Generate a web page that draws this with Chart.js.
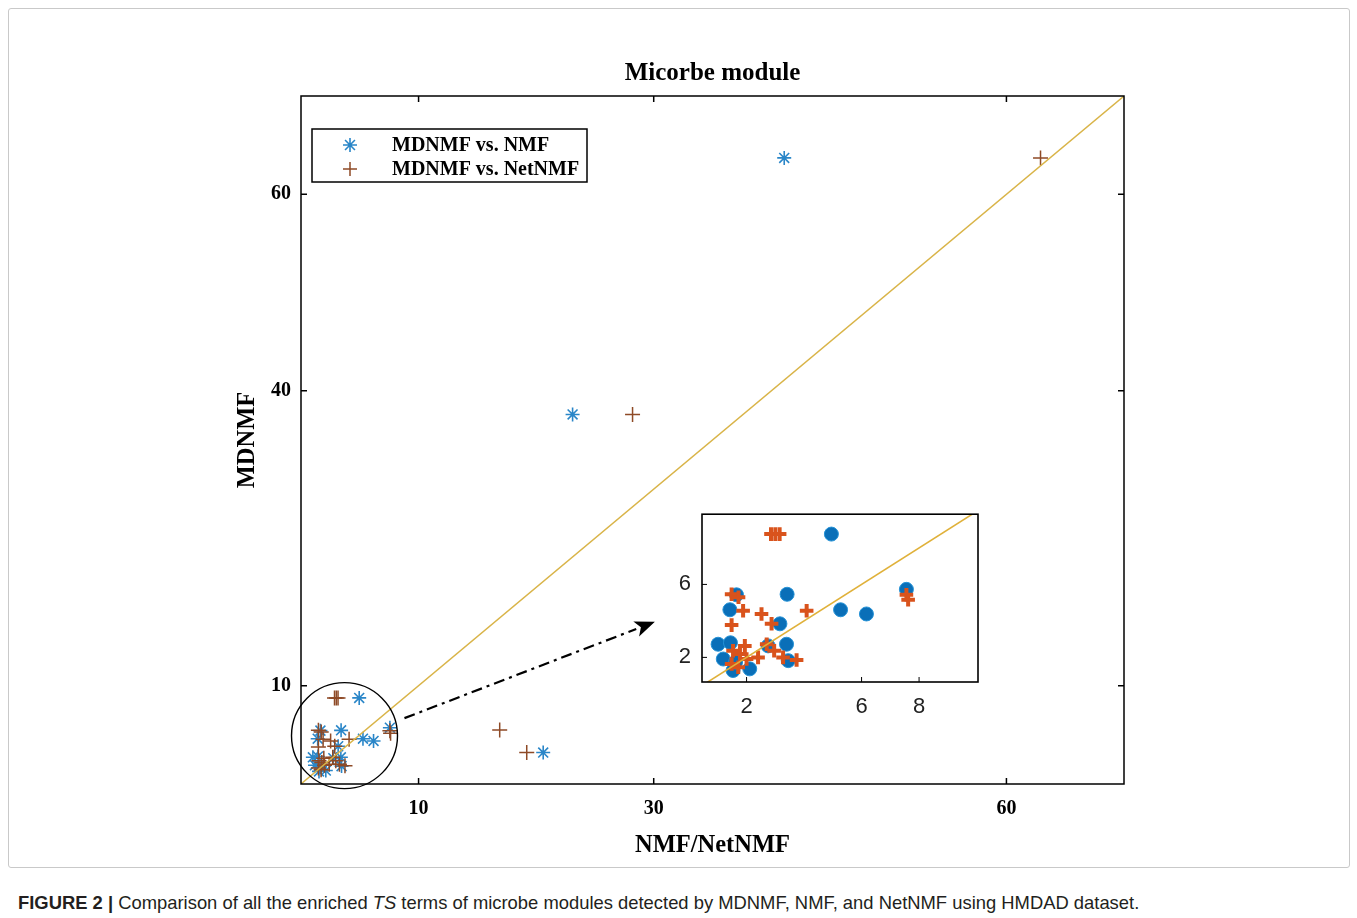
<!DOCTYPE html>
<html>
<head>
<meta charset="utf-8">
<script src="https://cdn.jsdelivr.net/npm/chart.js@4.4.0/dist/chart.umd.min.js"></script>
<style>
  body { margin: 0; background: #fff; }
  #wrap { position: relative; width: 1357px; height: 918px; }
  #frame { position: absolute; left: 8px; top: 8px; width: 1340px; height: 858px; border: 1px solid #c9c9c9; border-radius: 3px; }
  #main { position: absolute; left: 0; top: 0; }
  #inset { position: absolute; left: 640px; top: 490px; }
  #caption { position: absolute; left: 18px; top: 892px; font: 18.4px 'Liberation Sans', Arial, sans-serif; color: #231f20; white-space: nowrap; line-height: 22px; }
</style>
</head>
<body>
<div id="wrap">
  <div id="frame"></div>
  <canvas id="main" width="1357" height="870"></canvas>
  <canvas id="inset" width="360" height="240"></canvas>
  <div id="caption"><b>FIGURE 2 |</b> Comparison of all the enriched <i>TS</i> terms of microbe modules detected by MDNMF, NMF, and NetNMF using HMDAD dataset.</div>
</div>
<script>
// MDNMF vs. NMF
const nmfX = [41.1, 23.1, 20.6, 4.95, 3.41, 1.65, 7.56, 1.42, 5.27, 6.17, 3.16, 1.01, 1.44, 3.39, 1.19, 2.11, 1.53, 3.45, 2.75, 1.62];
const nmfY = [63.7, 37.6, 3.2, 8.76, 5.46, 5.43, 5.73, 4.61, 4.61, 4.38, 3.84, 2.72, 2.80, 2.72, 1.91, 1.37, 1.28, 1.82, 2.63, 1.75];
// MDNMF vs. NetNMF
const netX = [62.9, 28.2, 16.9, 19.2, 2.85, 3.0, 3.15, 1.48, 1.72, 7.56, 7.62, 1.88, 2.52, 4.09, 1.48, 2.87, 1.94, 2.70, 2.96, 3.27, 3.74, 2.40, 1.53, 1.77, 1.48, 1.71, 2.0];
const netY = [63.7, 37.6, 5.5, 3.2, 8.76, 8.76, 8.76, 5.46, 5.30, 5.43, 5.16, 4.56, 4.38, 4.56, 3.77, 3.84, 2.63, 2.72, 2.36, 2.0, 1.86, 2.0, 2.36, 2.18, 1.64, 1.46, 1.91];
// y = x reference line
const diagonal = [0, 70];

const mainXTicks = [10, 30, 60];
const mainYTicks = [10, 40, 60];
const insetXTicks = [2, 6, 8];
const insetYTicks = [2, 6];

const nmfPts = nmfX.map((x, i) => ({ x: x, y: nmfY[i] }));
const netPts = netX.map((x, i) => ({ x: x, y: netY[i] }));
const diagPts = diagonal.map(v => ({ x: v, y: v }));

const serif = "'Liberation Serif', 'Times New Roman', serif";
const sans = "'Liberation Sans', Arial, sans-serif";

Chart.defaults.animation = false;
Chart.defaults.plugins.tooltip.enabled = false;

function fixTicks(list) {
  return s => { s.ticks = list.map(v => ({ value: v })); };
}

// box, inward ticks, zoom circle, arrow and legend for the main plot
const mainExtras = {
  id: 'mainExtras',
  afterDraw(chart) {
    const { ctx, chartArea: a, scales: { x, y } } = chart;
    ctx.save();
    ctx.strokeStyle = '#000';
    ctx.lineWidth = 1.5;
    ctx.strokeRect(a.left, a.top, a.right - a.left, a.bottom - a.top);
    ctx.beginPath();
    x.ticks.forEach(t => {
      const p = x.getPixelForValue(t.value);
      ctx.moveTo(p, a.bottom); ctx.lineTo(p, a.bottom - 6);
      ctx.moveTo(p, a.top); ctx.lineTo(p, a.top + 6);
    });
    y.ticks.forEach(t => {
      const p = y.getPixelForValue(t.value);
      ctx.moveTo(a.left, p); ctx.lineTo(a.left + 6, p);
      ctx.moveTo(a.right, p); ctx.lineTo(a.right - 6, p);
    });
    ctx.stroke();

    // circle around the cluster
    ctx.lineWidth = 1.4;
    ctx.beginPath();
    ctx.arc(x.getPixelForValue(3.7), y.getPixelForValue(4.92), 53, 0, Math.PI * 2);
    ctx.stroke();

    // dash-dot arrow to the inset
    const x0 = x.getPixelForValue(8.8), y0 = y.getPixelForValue(6.7);
    const x1 = x.getPixelForValue(30.1), y1 = y.getPixelForValue(16.5);
    const ang = Math.atan2(y1 - y0, x1 - x0);
    const head = 20;
    ctx.lineWidth = 2.2;
    ctx.setLineDash([11, 5, 3, 5]);
    ctx.beginPath();
    ctx.moveTo(x0, y0);
    ctx.lineTo(x1 - head * Math.cos(ang), y1 - head * Math.sin(ang));
    ctx.stroke();
    ctx.setLineDash([]);
    ctx.fillStyle = '#000';
    ctx.beginPath();
    ctx.moveTo(x1, y1);
    ctx.lineTo(x1 - head * Math.cos(ang) + 8 * Math.sin(ang), y1 - head * Math.sin(ang) - 8 * Math.cos(ang));
    ctx.lineTo(x1 - head * 0.75 * Math.cos(ang), y1 - head * 0.75 * Math.sin(ang));
    ctx.lineTo(x1 - head * Math.cos(ang) - 8 * Math.sin(ang), y1 - head * Math.sin(ang) + 8 * Math.cos(ang));
    ctx.closePath();
    ctx.fill();

    // legend
    const lx = a.left + 11, ly = a.top + 33, lw = 275, lh = 53;
    ctx.fillStyle = '#fff';
    ctx.fillRect(lx, ly, lw, lh);
    ctx.lineWidth = 1.5;
    ctx.strokeRect(lx, ly, lw, lh);
    const sets = chart.data.datasets.filter(d => d.label);
    sets.forEach((d, i) => {
      const cy = ly + 16 + i * 24;
      const cx = lx + 38;
      const r = 7;
      ctx.strokeStyle = d.borderColor;
      ctx.lineWidth = d.borderWidth;
      ctx.beginPath();
      ctx.moveTo(cx - r, cy); ctx.lineTo(cx + r, cy);
      ctx.moveTo(cx, cy - r); ctx.lineTo(cx, cy + r);
      if (d.pointStyle === 'star') {
        const k = r * 0.707;
        ctx.moveTo(cx - k, cy - k); ctx.lineTo(cx + k, cy + k);
        ctx.moveTo(cx - k, cy + k); ctx.lineTo(cx + k, cy - k);
      }
      ctx.stroke();
      ctx.fillStyle = '#000';
      ctx.font = 'bold 20px ' + serif;
      ctx.textBaseline = 'middle';
      ctx.textAlign = 'left';
      ctx.fillText(d.label, lx + 80, cy + 1);
    });
    ctx.restore();
  }
};

new Chart(document.getElementById('main'), {
  type: 'scatter',
  data: {
    datasets: [
      { label: 'MDNMF vs. NMF', data: nmfPts, pointStyle: 'star', pointRadius: 7, borderColor: '#2a86c8', backgroundColor: '#2a86c8', borderWidth: 1.6, order: 2 },
      { label: 'MDNMF vs. NetNMF', data: netPts, pointStyle: 'cross', pointRadius: 7.5, borderColor: '#8e4a26', backgroundColor: '#8e4a26', borderWidth: 1.5, order: 1 },
      { type: 'line', data: diagPts, borderColor: '#d9b448', borderWidth: 1.4, pointRadius: 0, order: 0 }
    ]
  },
  options: {
    responsive: false,
    layout: { padding: { left: 0, right: 233, top: 0, bottom: 0 } },
    plugins: {
      legend: { display: false },
      title: {
        display: true, fullSize: false, text: 'Micorbe module', color: '#000',
        font: { family: serif, size: 25, weight: 'bold' },
        padding: { top: 59, bottom: 7 }
      }
    },
    scales: {
      x: {
        type: 'linear', min: 0, max: 70,
        afterBuildTicks: fixTicks(mainXTicks),
        afterFit: s => { s.height = 86; },
        grid: { display: false, drawTicks: false },
        border: { display: false },
        ticks: { padding: 13, maxRotation: 0, color: '#000', font: { family: serif, size: 20, weight: 'bold' } },
        title: { display: true, text: 'NMF/NetNMF', color: '#000', font: { family: serif, size: 24.5, weight: 'bold' }, padding: { top: 0, bottom: 10 } }
      },
      y: {
        type: 'linear', min: 0, max: 70,
        afterBuildTicks: fixTicks(mainYTicks),
        afterFit: s => { s.width = 301; },
        grid: { display: false, drawTicks: false },
        border: { display: false },
        ticks: { padding: 10, color: '#000', font: { family: serif, size: 20, weight: 'bold' } },
        title: { display: true, text: 'MDNMF', color: '#000', font: { family: serif, size: 24.5, weight: 'bold' }, padding: { top: 233, bottom: 0 } }
      }
    }
  },
  plugins: [mainExtras]
});

// box and inward ticks for the zoomed inset
const insetBox = {
  id: 'insetBox',
  afterDraw(chart) {
    const { ctx, chartArea: a, scales: { x, y } } = chart;
    ctx.save();
    ctx.strokeStyle = '#000';
    ctx.lineWidth = 1.6;
    ctx.strokeRect(a.left, a.top, a.right - a.left, a.bottom - a.top);
    ctx.beginPath();
    x.ticks.forEach(t => {
      const p = x.getPixelForValue(t.value);
      ctx.moveTo(p, a.bottom); ctx.lineTo(p, a.bottom - 5);
    });
    y.ticks.forEach(t => {
      const p = y.getPixelForValue(t.value);
      ctx.moveTo(a.left, p); ctx.lineTo(a.left + 5, p);
    });
    ctx.lineWidth = 1;
    ctx.stroke();
    ctx.restore();
  }
};

new Chart(document.getElementById('inset'), {
  type: 'scatter',
  data: {
    datasets: [
      { data: nmfPts, pointStyle: 'circle', pointRadius: 7, backgroundColor: '#0a6fb8', borderColor: '#2592d6', borderWidth: 1, order: 2 },
      { data: netPts, pointStyle: 'cross', pointRadius: 6.8, borderColor: '#d9531c', backgroundColor: '#d9531c', borderWidth: 4, order: 1 },
      { type: 'line', data: diagPts, borderColor: '#e0b13a', borderWidth: 1.6, pointRadius: 0, order: 0 }
    ]
  },
  options: {
    responsive: false,
    layout: { padding: { left: 0, right: 22, top: 22, bottom: 0 } },
    plugins: { legend: { display: false } },
    scales: {
      x: {
        type: 'linear', min: 0.45, max: 10.05,
        afterBuildTicks: fixTicks(insetXTicks),
        afterFit: s => { s.height = 48; },
        grid: { display: false, drawTicks: false },
        border: { display: false },
        ticks: { padding: 12, maxRotation: 0, color: '#222', font: { family: sans, size: 22 } }
      },
      y: {
        type: 'linear', min: 0.65, max: 9.85,
        afterBuildTicks: fixTicks(insetYTicks),
        afterFit: s => { s.width = 62; },
        grid: { display: false, drawTicks: false },
        border: { display: false },
        ticks: { padding: 11, color: '#222', font: { family: sans, size: 22 } }
      }
    }
  },
  plugins: [insetBox]
});
</script>
</body>
</html>
